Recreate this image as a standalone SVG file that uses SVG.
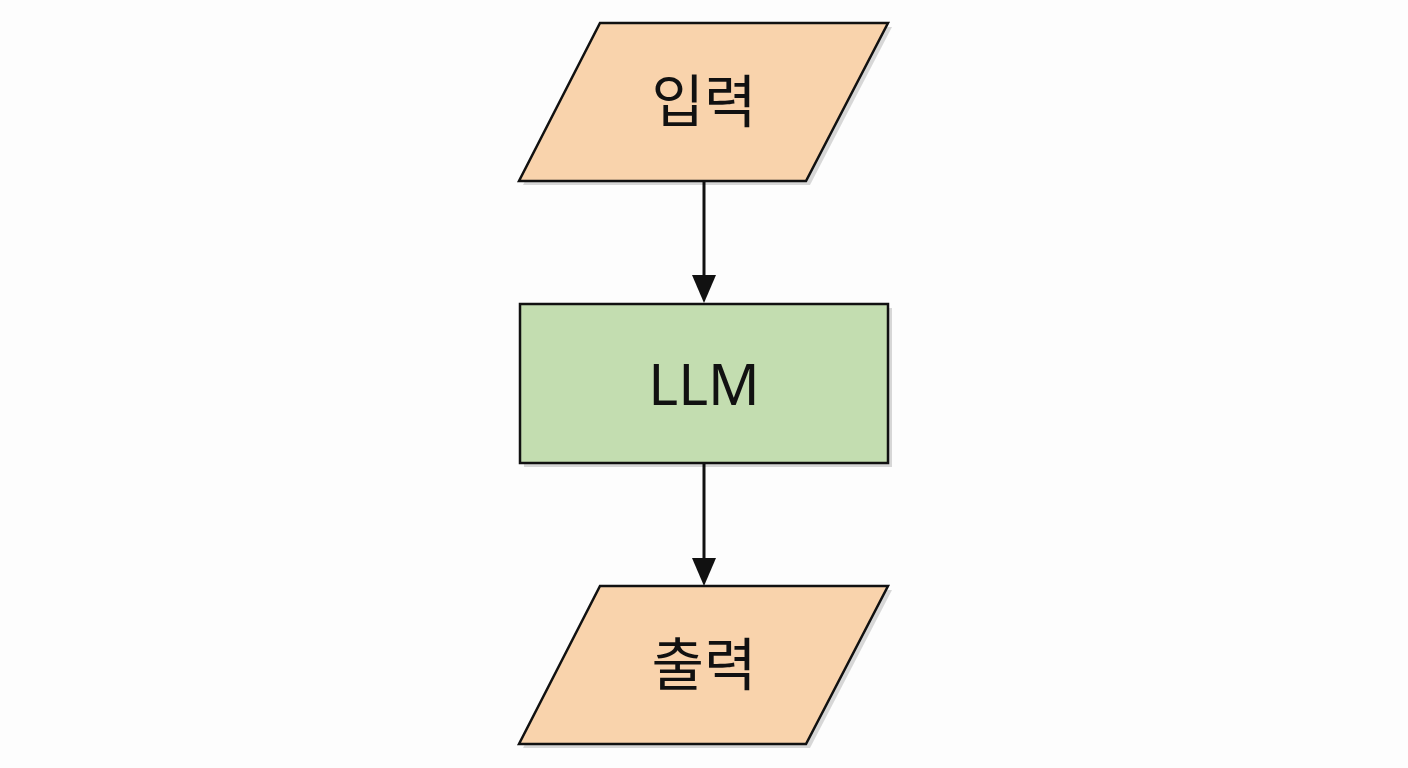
<svg xmlns="http://www.w3.org/2000/svg" width="1408" height="768" viewBox="0 0 1408 768">
<style>
.io{fill:#F9D3AC;stroke:#111;stroke-width:2.5}
.proc{fill:#C3DDB0;stroke:#111;stroke-width:2.5}
.sh{fill:#000;opacity:0.15}
.t{font-family:"Noto Sans","Noto Sans CJK KR",sans-serif;font-size:57px;fill:#111;text-anchor:middle;dominant-baseline:central}
</style>
<rect width="1408" height="768" fill="#fdfdfd"/>
<g id="connectors">
<line x1="704" y1="182" x2="704" y2="278" stroke="#111" stroke-width="3"/>
<path d="M692,275 L716,275 L704,303 z" fill="#111"/>
<line x1="704" y1="463" x2="704" y2="560" stroke="#111" stroke-width="3"/>
<path d="M692,558 L716,558 L704,586 z" fill="#111"/>
</g>
<g id="input">
<polygon class="sh" points="604,27 892,27 810,185 523,185"/>
<polygon class="io" points="600,23 888,23 806,181 519,181"/>
<text class="t" x="704" y="100">입력</text>
</g>
<g id="llm">
<rect class="sh" x="524" y="308" width="368" height="159"/>
<rect class="proc" x="520" y="304" width="368" height="159"/>
<text class="t" x="704" y="383">LLM</text>
</g>
<g id="output">
<polygon class="sh" points="604,590 892,590 810,748 523,748"/>
<polygon class="io" points="600,586 888,586 806,744 519,744"/>
<text class="t" x="704" y="663">출력</text>
</g>
</svg>
